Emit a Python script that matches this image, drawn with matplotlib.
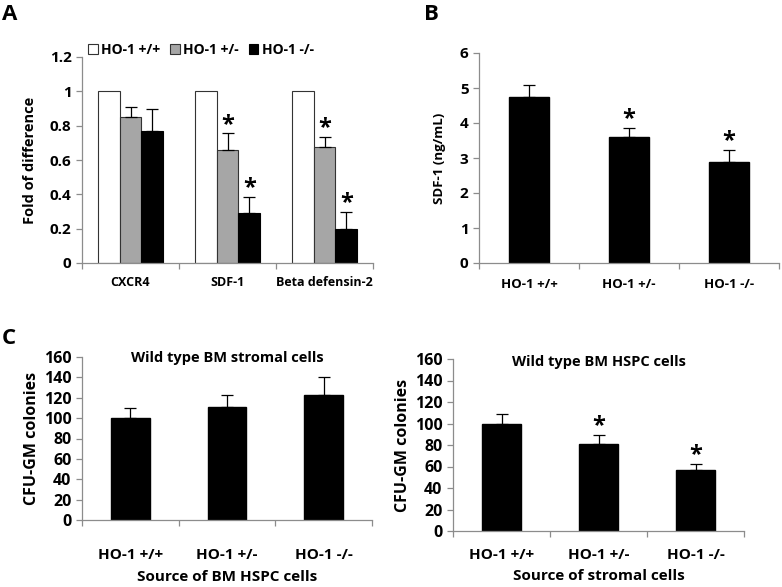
import matplotlib
matplotlib.use("Agg")
import matplotlib.pyplot as plt
import numpy as np

plt.rcParams['font.family'] = ['Open Sans', 'DejaVu Sans']
plt.rcParams['font.weight'] = 'bold'

# ---- Data ----
genes = ["CXCR4", "SDF-1", "Beta defensin-2"]
genotypes = ["HO-1 +/+", "HO-1 +/-", "HO-1 -/-"]
a_wt = [1.0, 1.0, 1.0]
a_het = [0.85, 0.66, 0.675]
a_ko = [0.77, 0.29, 0.20]
a_het_err = [0.06, 0.095, 0.06]
a_ko_err = [0.125, 0.095, 0.10]
a_het_sig = [False, True, True]
a_ko_sig = [False, True, True]

b_vals = [4.75, 3.6, 2.9]
b_err = [0.35, 0.27, 0.34]
b_sig = [False, True, True]

c1_vals = [100, 111, 123]
c1_err = [10, 12, 17]
c1_sig = [False, False, False]

c2_vals = [100, 81, 57]
c2_err = [9, 8, 5]
c2_sig = [False, True, True]

W, H = 782, 587
fig = plt.figure(figsize=(W / 100, H / 100), dpi=100)

SPINE = '#8c8c8c'


def make_ax(l, r, y0, ytop):
    ax = fig.add_axes([l / W, (H - y0) / H, (r - l) / W, (y0 - ytop) / H])
    for s in ['top', 'right']:
        ax.spines[s].set_visible(False)
    for s in ['left', 'bottom']:
        ax.spines[s].set_color(SPINE)
        ax.spines[s].set_linewidth(0.9)
    ax.set_xlim(-0.5, 2.5)
    ax.set_xticks([-0.5, 0.5, 1.5, 2.5])
    ax.set_xticklabels([])
    ax.tick_params(axis='x', which='major', length=4, color=SPINE, width=0.9)
    ax.tick_params(axis='y', which='major', length=4, color=SPINE, width=0.9, direction='out')
    return ax


def cat_labels(ax, labels, size, pad):
    ax.set_xticks([0, 1, 2], minor=True)
    ax.set_xticklabels(labels, minor=True, fontsize=size, fontweight='bold')
    ax.tick_params(axis='x', which='minor', length=0, pad=pad)


def star(ax, x, y):
    ax.annotate('*', (x, y), xytext=(0, 2), textcoords='offset points',
                ha='center', va='baseline', fontsize=17, fontweight='bold')


def panel_title(ax, text, ypos):
    ax.text(0.5, ypos, text, transform=ax.transAxes, ha='center', va='center',
            fontsize=10.5, fontweight='bold')

x = np.arange(3)
EK = dict(ecolor='black', elinewidth=0.9, capthick=0.9)

# ---- Panel A ----
axA = make_ax(82, 373, 263, 57)
bw = 0.226
axA.bar(x - bw, a_wt, bw, color='white', edgecolor='#333333', linewidth=0.8, label=genotypes[0])
axA.bar(x, a_het, bw, color='#a6a6a6', edgecolor='#333333', linewidth=0.8, label=genotypes[1],
        yerr=[np.zeros(3), a_het_err], capsize=4, error_kw=EK)
axA.bar(x + bw, a_ko, bw, color='black', edgecolor='black', linewidth=0.8, label=genotypes[2],
        yerr=[np.zeros(3), a_ko_err], capsize=4, error_kw=EK)
for i in range(3):
    if a_het_sig[i]:
        star(axA, x[i], a_het[i] + a_het_err[i])
    if a_ko_sig[i]:
        star(axA, x[i] + bw, a_ko[i] + a_ko_err[i])
axA.set_ylim(0, 1.2)
axA.set_yticks([0, 0.2, 0.4, 0.6, 0.8, 1.0, 1.2])
axA.set_yticklabels(['0', '0.2', '0.4', '0.6', '0.8', '1', '1.2'], fontsize=11, fontweight='bold')
axA.set_ylabel('Fold of difference', fontsize=10.5, fontweight='bold', labelpad=9)
cat_labels(axA, genes, 9, 9)
axA.legend(loc='upper left', bbox_to_anchor=(0.02, 1.07), ncol=3, frameon=False,
           handlelength=0.7, handleheight=0.7, handletextpad=0.25, columnspacing=0.7,
           prop=dict(size=10, weight='bold'), borderaxespad=0.0, borderpad=0.0)
fig.text(2 / W, 1 - 20 / H, 'A', fontsize=16, fontweight='bold')

# ---- Panel B ----
axB = make_ax(479, 779, 263, 53)
axB.bar(x, b_vals, 0.4, color='black', edgecolor='black',
        yerr=[np.zeros(3), b_err], capsize=4, error_kw=EK)
for i in range(3):
    if b_sig[i]:
        star(axB, x[i], b_vals[i] + b_err[i])
axB.set_ylim(0, 6)
axB.set_yticks(range(7))
axB.set_yticklabels([str(v) for v in range(7)], fontsize=11, fontweight='bold')
axB.set_ylabel('SDF-1 (ng/mL)', fontsize=9.5, fontweight='bold', labelpad=10)
cat_labels(axB, genotypes, 9.5, 11)
fig.text(424 / W, 1 - 20 / H, 'B', fontsize=16, fontweight='bold')

# ---- Panel C left ----
axC1 = make_ax(82, 372, 520, 357)
axC1.bar(x, c1_vals, 0.4, color='black', edgecolor='black',
         yerr=[np.zeros(3), c1_err], capsize=4, error_kw=EK)
axC1.set_ylim(0, 160)
axC1.set_yticks(range(0, 161, 20))
axC1.set_yticklabels([str(v) for v in range(0, 161, 20)], fontsize=11.5, fontweight='bold')
axC1.set_ylabel('CFU-GM colonies', fontsize=11.5, fontweight='bold', labelpad=3)
cat_labels(axC1, genotypes, 11, 20)
axC1.set_xlabel('Source of BM HSPC cells', fontsize=11, fontweight='bold', labelpad=6)
panel_title(axC1, 'Wild type BM stromal cells', 0.995)
fig.text(2 / W, 1 - 344 / H, 'C', fontsize=16, fontweight='bold')

# ---- Panel C right ----
axC2 = make_ax(453, 744, 531, 359)
axC2.bar(x, c2_vals, 0.4, color='black', edgecolor='black',
         yerr=[np.zeros(3), c2_err], capsize=4, error_kw=EK)
for i in range(3):
    if c2_sig[i]:
        star(axC2, x[i], c2_vals[i] + c2_err[i])
axC2.set_ylim(0, 160)
axC2.set_yticks(range(0, 161, 20))
axC2.set_yticklabels([str(v) for v in range(0, 161, 20)], fontsize=11.5, fontweight='bold')
axC2.set_ylabel('CFU-GM colonies', fontsize=11.5, fontweight='bold', labelpad=3)
cat_labels(axC2, genotypes, 11, 12)
axC2.set_xlabel('Source of stromal cells', fontsize=11, fontweight='bold', labelpad=5)
panel_title(axC2, 'Wild type BM HSPC cells', 0.985)

fig.savefig('out.png', dpi=100)
